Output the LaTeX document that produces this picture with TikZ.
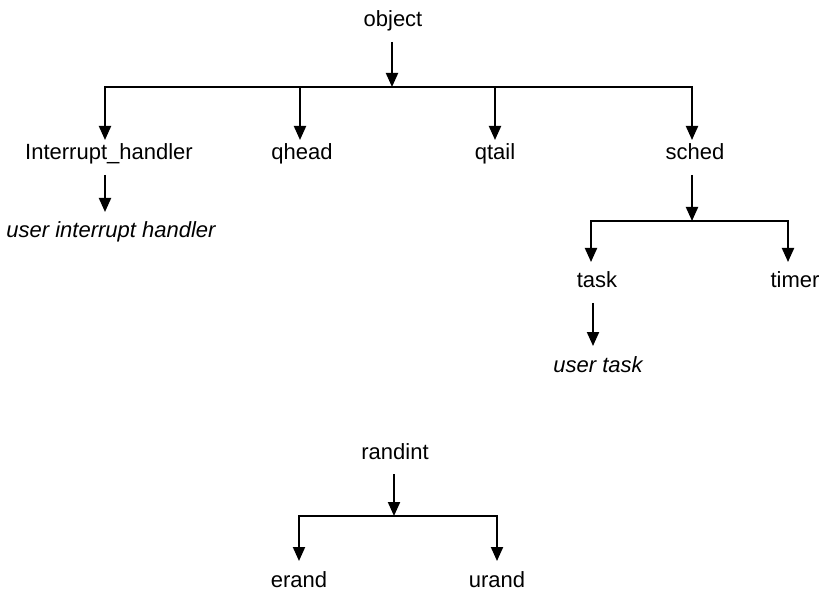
\documentclass[tikz,border=0pt]{standalone}
\usepackage{fontspec}
\setmainfont{Liberation Sans}
\usetikzlibrary{arrows.meta}
\begin{document}
\begin{tikzpicture}[x=1pt,y=-1pt,
  lbl/.style={font=\fontsize{22}{26}\selectfont, anchor=base, inner sep=0pt,
    text height=16pt, text depth=5pt, outer ysep=10pt},
  ilbl/.style={lbl, font=\fontsize{22}{26}\selectfont\itshape},
  conn/.style={line width=2pt, -{Triangle[length=14pt,width=12pt]}},
  bus/.style={line width=2pt}]
\useasboundingbox (0,0) rectangle (821,593);
% nodes
\node[lbl] (obj) at (393,27) {object};
\node[lbl] (ih) at (109,160) {Interrupt\_handler};
\node[lbl] (qh) at (302,160) {qhead};
\node[lbl] (qt) at (495,160) {qtail};
\node[lbl] (sc) at (695,160) {sched};
\node[ilbl] (uih) at (111,238) {user interrupt handler};
\node[lbl] (tk) at (597,288) {task};
\node[lbl] (tm) at (795,288) {timer};
\node[ilbl] (ut) at (598,372) {user task};
\node[lbl] (rd) at (395,459) {randint};
\node[lbl] (er) at (299,587) {erand};
\node[lbl] (ur) at (497,587) {urand};
% junctions
\coordinate (j1) at (392,87);
\coordinate (j2) at (692,221);
\coordinate (j3) at (394,516);
% object tree
\draw[conn] ([xshift=-1pt]obj.south) -- (j1);
\draw[conn] (j1) -| ([xshift=-4pt,yshift=-6pt]ih.north);
\draw[conn] (j1) -| ([xshift=-2pt,yshift=-6pt]qh.north);
\draw[conn] (j1) -| ([yshift=-6pt]qt.north);
\draw[conn] (j1) -| ([xshift=-3pt,yshift=-6pt]sc.north);
\draw[conn] ([xshift=-4pt]ih.south) -- ([xshift=-6pt]uih.north);
% sched subtree
\draw[conn] ([xshift=-3pt]sc.south) -- (j2);
\draw[conn] (j2) -| ([xshift=-6pt]tk.north);
\draw[conn] (j2) -| ([xshift=-7pt]tm.north);
\draw[conn] ([xshift=-4pt]tk.south) -- ([xshift=-5pt]ut.north);
% randint tree
\draw[conn] ([xshift=-1pt]rd.south) -- (j3);
\draw[conn] (j3) -| (er.north);
\draw[conn] (j3) -| (ur.north);
\end{tikzpicture}
\end{document}
